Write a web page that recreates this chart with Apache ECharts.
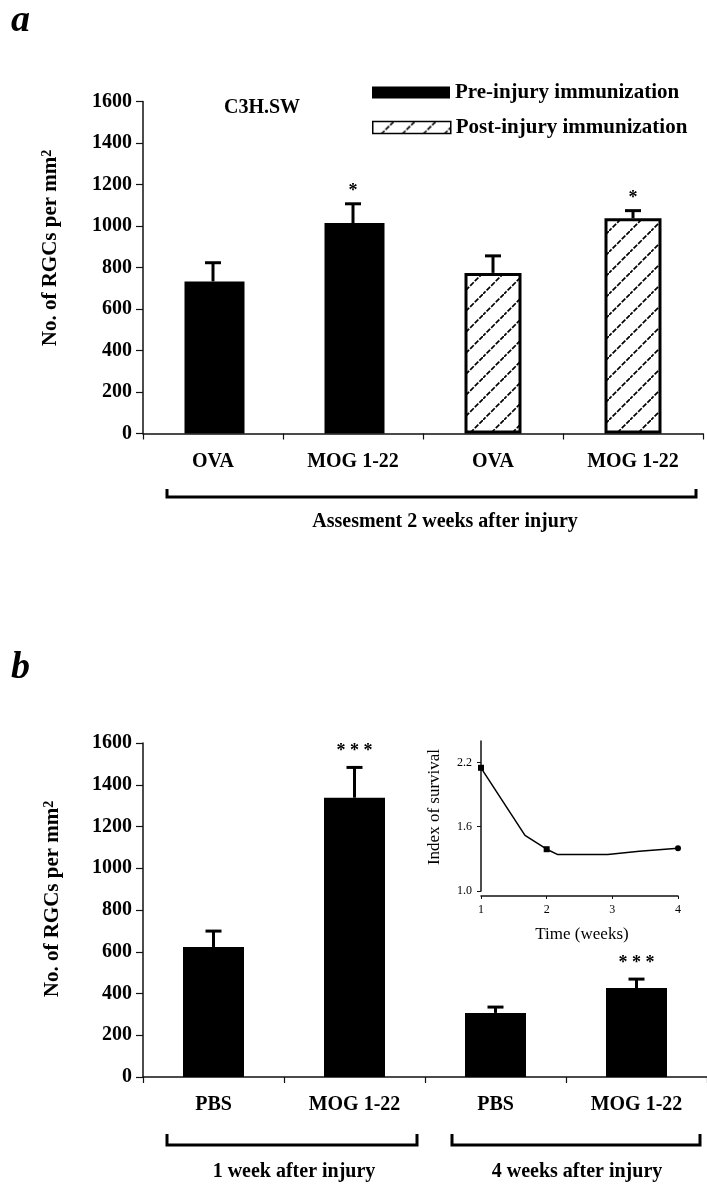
<!DOCTYPE html>
<html><head><meta charset="utf-8">
<script src="https://cdn.jsdelivr.net/npm/echarts@6/dist/echarts.min.js"></script>
<style>html,body{margin:0;padding:0;background:#fff}#c{width:707px;height:1199px}</style>
</head><body><div id="c"></div>
<script>
// ---- data ----
const catsA = ['OVA', 'MOG 1-22', 'OVA', 'MOG 1-22'];
const preA = [733, 1014, '-', '-'];
const postA = ['-', '-', 774, 1037];
const errA = [90, 93, 82, 37];
const starsA = ['', '*', '', '*'];

const catsB = ['PBS', 'MOG 1-22', 'PBS', 'MOG 1-22'];
const valsB = [623, 1338, 307, 426];
const errB = [76, 145, 28, 43];
const starsB = ['', '* * *', '', '* * *'];

const insetX = [1, 1.67, 2, 2.17, 2.93, 3.41, 4];
const insetY = [2.15, 1.52, 1.39, 1.34, 1.34, 1.37, 1.40];
const insetSymbols = ['rect', 'none', 'rect', 'none', 'none', 'none', 'circle'];
const insetYTicks = [1.0, 1.6, 2.2];
const insetXTicks = [1, 2, 3, 4];

const FF = "'Liberation Serif', 'DejaVu Serif', serif";

function hatch() {
  const s = 21;
  const c = document.createElement('canvas');
  c.width = s; c.height = s;
  const g = c.getContext('2d');
  g.fillStyle = '#fff'; g.fillRect(0, 0, s, s);
  g.strokeStyle = '#000'; g.lineWidth = 1.7; g.setLineDash([5, 1.5]);
  g.beginPath(); g.moveTo(-1, s + 1); g.lineTo(s + 1, -1); g.stroke();
  return c;
}
const hatchFill = { image: hatch(), repeat: 'repeat' };

const topA = catsA.map((_, i) => (preA[i] !== '-' ? preA[i] : postA[i]));

function errRender(stars, off) {
  return function (params, api) {
    const x = api.value(0), v = api.value(1), e = api.value(2);
    const p0 = api.coord([x, v]);
    const p1 = api.coord([x, v + e]);
    const st = { stroke: '#000', lineWidth: 3 };
    const children = [
      { type: 'line', shape: { x1: p0[0], y1: p0[1], x2: p1[0], y2: p1[1] }, style: st },
      { type: 'line', shape: { x1: p1[0] - 8, y1: p1[1], x2: p1[0] + 8, y2: p1[1] }, style: st }
    ];
    const s = stars[params.dataIndex];
    if (s) {
      children.push({ type: 'text', x: p1[0], y: p1[1] - off,
        style: { text: s, fill: '#000', font: 'bold 18px ' + FF, align: 'center', verticalAlign: 'middle' } });
    }
    return { type: 'group', children };
  };
}

const axisLineSt = { show: true, lineStyle: { color: '#111', width: 1.5 } };
const boldLbl = { fontFamily: FF, fontWeight: 'bold', fontSize: 20, color: '#000' };

function catAxis(idx, cats) {
  return { type: 'category', gridIndex: idx, data: cats, axisLine: axisLineSt,
    axisTick: { show: true, length: 6, lineStyle: { color: '#111', width: 1.2 } },
    axisLabel: Object.assign({ interval: 0, margin: 18 }, boldLbl) };
}
function valAxis(idx) {
  return { type: 'value', gridIndex: idx, min: 0, max: 1600, interval: 200, axisLine: axisLineSt,
    axisTick: { show: true, length: 7, lineStyle: { color: '#111', width: 1.2 } },
    splitLine: { show: false },
    axisLabel: Object.assign({ margin: 11, formatter: v => String(v) }, boldLbl) };
}

const chart = echarts.init(document.getElementById('c'), null, { renderer: 'canvas' });
const yTitle = (x, y) => ({
  type: 'text', x, y, rotation: Math.PI / 2,
  style: { text: '{a|No. of RGCs per mm}{s|2}', align: 'center', verticalAlign: 'middle', fill: '#000',
    rich: { a: { fontFamily: FF, fontWeight: 'bold', fontSize: 21, fill: '#000' },
            s: { fontFamily: FF, fontWeight: 'bold', fontSize: 14, fill: '#000', verticalAlign: 'top' } } }
});
const txt = (t, x, y, size) => ({
  type: 'text', x, y,
  style: { text: t, fill: '#000', font: 'bold ' + size + 'px ' + FF, align: 'center', verticalAlign: 'middle' }
});
const bracket = (x1, x2, yTop, yBot) => ({
  type: 'polyline', shape: { points: [[x1, yTop], [x1, yBot], [x2, yBot], [x2, yTop]] },
  style: { stroke: '#000', lineWidth: 3, fill: null }
});

chart.setOption({
  animation: false,
  backgroundColor: '#fff',
  grid: [
    { left: 143, top: 101.5, width: 560, height: 332 },
    { left: 143, top: 743, width: 564, height: 334 },
    { left: 481, top: 741, width: 197, height: 150 }
  ],
  legend: [
    { left: 372, top: 81.5, padding: 0, itemWidth: 78, itemHeight: 12, selectedMode: false,
      textStyle: { fontFamily: FF, fontWeight: 'bold', fontSize: 21, color: '#000', lineHeight: 22 },
      data: [{ name: 'Pre-injury immunization', icon: 'rect', itemStyle: { color: '#000' } }] },
    { left: 372, top: 116.5, padding: 0, itemWidth: 78, itemHeight: 12, selectedMode: false,
      textStyle: { fontFamily: FF, fontWeight: 'bold', fontSize: 21, color: '#000', lineHeight: 22 },
      data: [{ name: 'Post-injury immunization', icon: 'rect',
        itemStyle: { color: hatchFill, borderColor: '#000', borderWidth: 1.5 } }] }
  ],
  xAxis: [
    catAxis(0, catsA),
    catAxis(1, catsB),
    { type: 'value', gridIndex: 2, min: 1, max: 4, interval: 1, offset: 5,
      axisLine: { show: true, lineStyle: { color: '#111', width: 1.5 } },
      axisTick: { show: true, length: 3, customValues: insetXTicks, lineStyle: { color: '#111' } },
      splitLine: { show: false },
      axisLabel: { customValues: insetXTicks, margin: 8, fontFamily: FF, fontSize: 12, color: '#000' } }
  ],
  yAxis: [
    valAxis(0),
    valAxis(1),
    { type: 'value', gridIndex: 2, min: 1.0, max: 2.4,
      axisLine: { show: true, lineStyle: { color: '#111', width: 1.5 } },
      axisTick: { show: true, length: 4, customValues: insetYTicks, lineStyle: { color: '#111' } },
      splitLine: { show: false },
      axisLabel: { customValues: insetYTicks, margin: 9, fontFamily: FF, fontSize: 12, color: '#000',
        formatter: v => v.toFixed(1) } }
  ],
  series: [
    { name: 'Pre-injury immunization', type: 'bar', xAxisIndex: 0, yAxisIndex: 0, data: preA,
      barWidth: 60, barGap: '-100%', itemStyle: { color: '#000' } },
    { name: 'Post-injury immunization', type: 'bar', xAxisIndex: 0, yAxisIndex: 0, data: postA,
      barWidth: 57, barGap: '-100%', itemStyle: { color: hatchFill, borderColor: '#000', borderWidth: 3 } },
    { type: 'custom', xAxisIndex: 0, yAxisIndex: 0, z: 5,
      data: catsA.map((_, i) => [i, topA[i], errA[i]]),
      encode: { x: 0, y: 1 }, renderItem: errRender(starsA, 12) },
    { name: 'RGCs', type: 'bar', xAxisIndex: 1, yAxisIndex: 1, data: valsB,
      barWidth: 61, itemStyle: { color: '#000' } },
    { type: 'custom', xAxisIndex: 1, yAxisIndex: 1, z: 5,
      data: catsB.map((_, i) => [i, valsB[i], errB[i]]),
      encode: { x: 0, y: 1 }, renderItem: errRender(starsB, 16) },
    { name: 'Index of survival', type: 'line', xAxisIndex: 2, yAxisIndex: 2,
      data: insetX.map((x, i) => ({ value: [x, insetY[i]], symbol: insetSymbols[i] })),
      symbolSize: 6, itemStyle: { color: '#000' }, lineStyle: { color: '#000', width: 1.5 } }
  ],
  graphic: [
    { type: 'text', x: 11, y: 21, style: { text: 'a', fill: '#000', font: 'italic bold 38px ' + FF, align: 'left', verticalAlign: 'middle' } },
    { type: 'text', x: 11, y: 668, style: { text: 'b', fill: '#000', font: 'italic bold 38px ' + FF, align: 'left', verticalAlign: 'middle' } },
    txt('C3H.SW', 262, 108, 20),
    yTitle(51, 248),
    yTitle(53, 899),
    bracket(167, 696, 489, 497),
    txt('Assesment 2 weeks after injury', 445, 522, 20),
    bracket(167, 417, 1134, 1145),
    bracket(452, 700, 1134, 1145),
    txt('1 week after injury', 294, 1172, 20),
    txt('4 weeks after injury', 577, 1172, 20),
    { type: 'text', x: 435, y: 807, rotation: Math.PI / 2,
      style: { text: 'Index of survival', fill: '#000', font: '17px ' + FF, align: 'center', verticalAlign: 'middle' } },
    { type: 'text', x: 582, y: 935,
      style: { text: 'Time (weeks)', fill: '#000', font: '17px ' + FF, align: 'center', verticalAlign: 'middle' } }
  ]
});
</script>
</body></html>
